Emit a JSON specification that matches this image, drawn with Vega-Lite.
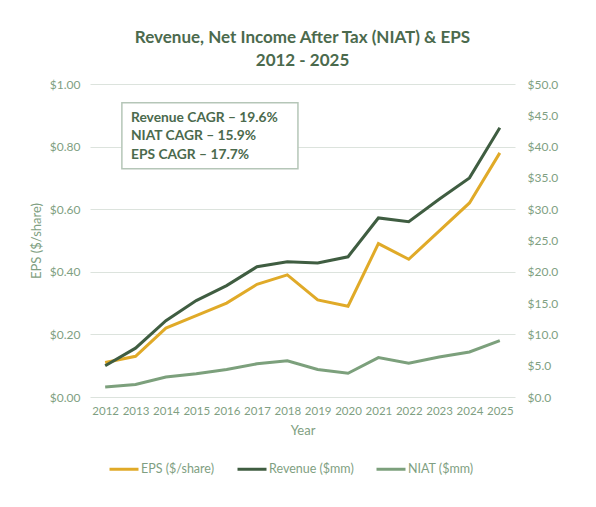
{
  "$schema": "https://vega.github.io/schema/vega-lite/v6.json",
  "autosize": {"type": "none"},
  "width": 425,
  "height": 313,
  "padding": {"left": 90, "top": 84, "right": 81, "bottom": 110},
  "background": "white",
  "config": {
    "font": "Lato",
    "view": {"stroke": null},
    "axis": {"labelFont": "Lato", "titleFont": "Lato", "labelColor": "#7F9F82", "titleColor": "#7F9F82", "labelFontSize": 11.5, "titleFontSize": 13, "titleFontWeight": "normal", "domain": false, "ticks": false},
    "legend": {"labelFont": "Lato", "labelColor": "#7F9F82", "labelFontSize": 12.5}
  },
  "title": {
    "text": ["Revenue, Net Income After Tax (NIAT) & EPS", "2012 - 2025"],
    "font": "Lato",
    "fontSize": 17,
    "fontWeight": "bold",
    "color": "#4B6A4D",
    "lineHeight": 23,
    "anchor": "middle",
    "offset": 8
  },
  "data": {
    "values": [
      {"year": 2012, "series": "EPS ($/share)", "value": 0.11},
      {"year": 2013, "series": "EPS ($/share)", "value": 0.13},
      {"year": 2014, "series": "EPS ($/share)", "value": 0.22},
      {"year": 2015, "series": "EPS ($/share)", "value": 0.26},
      {"year": 2016, "series": "EPS ($/share)", "value": 0.30},
      {"year": 2017, "series": "EPS ($/share)", "value": 0.36},
      {"year": 2018, "series": "EPS ($/share)", "value": 0.39},
      {"year": 2019, "series": "EPS ($/share)", "value": 0.31},
      {"year": 2020, "series": "EPS ($/share)", "value": 0.29},
      {"year": 2021, "series": "EPS ($/share)", "value": 0.49},
      {"year": 2022, "series": "EPS ($/share)", "value": 0.44},
      {"year": 2023, "series": "EPS ($/share)", "value": 0.53},
      {"year": 2024, "series": "EPS ($/share)", "value": 0.62},
      {"year": 2025, "series": "EPS ($/share)", "value": 0.78},
      {"year": 2012, "series": "Revenue ($mm)", "value": 5.0},
      {"year": 2013, "series": "Revenue ($mm)", "value": 7.8},
      {"year": 2014, "series": "Revenue ($mm)", "value": 12.2},
      {"year": 2015, "series": "Revenue ($mm)", "value": 15.4},
      {"year": 2016, "series": "Revenue ($mm)", "value": 17.8},
      {"year": 2017, "series": "Revenue ($mm)", "value": 20.8},
      {"year": 2018, "series": "Revenue ($mm)", "value": 21.6},
      {"year": 2019, "series": "Revenue ($mm)", "value": 21.4},
      {"year": 2020, "series": "Revenue ($mm)", "value": 22.4},
      {"year": 2021, "series": "Revenue ($mm)", "value": 28.6},
      {"year": 2022, "series": "Revenue ($mm)", "value": 28.0},
      {"year": 2023, "series": "Revenue ($mm)", "value": 31.6},
      {"year": 2024, "series": "Revenue ($mm)", "value": 35.0},
      {"year": 2025, "series": "Revenue ($mm)", "value": 43.0},
      {"year": 2012, "series": "NIAT ($mm)", "value": 1.6},
      {"year": 2013, "series": "NIAT ($mm)", "value": 2.0},
      {"year": 2014, "series": "NIAT ($mm)", "value": 3.2},
      {"year": 2015, "series": "NIAT ($mm)", "value": 3.7},
      {"year": 2016, "series": "NIAT ($mm)", "value": 4.4},
      {"year": 2017, "series": "NIAT ($mm)", "value": 5.3},
      {"year": 2018, "series": "NIAT ($mm)", "value": 5.8},
      {"year": 2019, "series": "NIAT ($mm)", "value": 4.4},
      {"year": 2020, "series": "NIAT ($mm)", "value": 3.8},
      {"year": 2021, "series": "NIAT ($mm)", "value": 6.3},
      {"year": 2022, "series": "NIAT ($mm)", "value": 5.4},
      {"year": 2023, "series": "NIAT ($mm)", "value": 6.4},
      {"year": 2024, "series": "NIAT ($mm)", "value": 7.2},
      {"year": 2025, "series": "NIAT ($mm)", "value": 9.0}
    ]
  },
  "layer": [
    {
      "layer": [
        {
          "transform": [{"filter": "datum.series === 'EPS ($/share)'"}],
          "mark": {"type": "line", "strokeWidth": 3},
          "encoding": {
            "x": {
              "field": "year",
              "type": "quantitative",
              "scale": {"domain": [2011.5, 2025.5], "nice": false, "zero": false},
              "axis": {"values": [2012, 2013, 2014, 2015, 2016, 2017, 2018, 2019, 2020, 2021, 2022, 2023, 2024, 2025], "format": "d", "grid": false, "title": "Year", "labelPadding": 8, "titlePadding": 8, "labelFlush": false, "labelOverlap": false}
            },
            "y": {
              "field": "value",
              "type": "quantitative",
              "scale": {"domain": [0, 1], "nice": false},
              "axis": {"values": [0, 0.2, 0.4, 0.6, 0.8, 1.0], "format": "$.2f", "title": "EPS ($/share)", "grid": true, "gridColor": "#DCE3DD", "gridWidth": 1, "labelPadding": 10, "titlePadding": 6, "labelFontSize": 12}
            },
            "color": {
              "field": "series",
              "type": "nominal",
              "scale": {"domain": ["EPS ($/share)", "Revenue ($mm)", "NIAT ($mm)"], "range": ["#E0AA28", "#3F5D41", "#7CA07C"]},
              "legend": {"title": null, "orient": "none", "legendX": 18, "legendY": 369, "direction": "horizontal", "symbolType": "stroke", "symbolSize": 841, "symbolStrokeWidth": 3, "labelOffset": 1, "columnPadding": 16}
            }
          }
        },
        {
          "data": {"values": [{"note": "box"}]},
          "mark": {"type": "rect", "fill": "white", "stroke": "#B5C6B8", "strokeWidth": 1.5},
          "encoding": {
            "x": {"datum": 2012.55, "type": "quantitative", "axis": {"values": [2012, 2013, 2014, 2015, 2016, 2017, 2018, 2019, 2020, 2021, 2022, 2023, 2024, 2025], "format": "d", "grid": false, "title": "Year", "labelPadding": 8, "titlePadding": 8, "labelFlush": false, "labelOverlap": false}},
            "x2": {"datum": 2018.35},
            "y": {"datum": 0.94, "type": "quantitative"},
            "y2": {"datum": 0.729}
          }
        },
        {
          "data": {"values": [{"note": "box"}]},
          "mark": {"type": "text", "align": "left", "baseline": "alphabetic", "font": "Lato", "fontSize": 13.8, "fontWeight": "bold", "color": "#4B6A4D", "lineHeight": 18.7},
          "encoding": {
            "x": {"datum": 2012.85, "type": "quantitative", "axis": {"values": [2012, 2013, 2014, 2015, 2016, 2017, 2018, 2019, 2020, 2021, 2022, 2023, 2024, 2025], "format": "d", "grid": false, "title": "Year", "labelPadding": 8, "titlePadding": 8, "labelFlush": false, "labelOverlap": false}},
            "y": {"datum": 0.88, "type": "quantitative"},
            "text": {"value": ["Revenue CAGR – 19.6%", "NIAT CAGR – 15.9%", "EPS CAGR – 17.7%"]}
          }
        }
      ]
    },
    {
      "transform": [{"filter": "datum.series !== 'EPS ($/share)'"}],
      "mark": {"type": "line", "strokeWidth": 3},
      "encoding": {
        "x": {
          "field": "year",
          "type": "quantitative",
          "axis": {"values": [2012, 2013, 2014, 2015, 2016, 2017, 2018, 2019, 2020, 2021, 2022, 2023, 2024, 2025], "format": "d", "grid": false, "title": "Year", "labelPadding": 8, "titlePadding": 8, "labelFlush": false, "labelOverlap": false}
        },
        "y": {
          "field": "value",
          "type": "quantitative",
          "scale": {"domain": [0, 50], "nice": false},
          "axis": {"orient": "right", "values": [0, 5, 10, 15, 20, 25, 30, 35, 40, 45, 50], "format": "$.1f", "title": null, "grid": false, "labelPadding": 12, "labelFontSize": 12}
        },
        "color": {"field": "series", "type": "nominal"}
      }
    }
  ],
  "resolve": {"scale": {"y": "independent"}}
}
